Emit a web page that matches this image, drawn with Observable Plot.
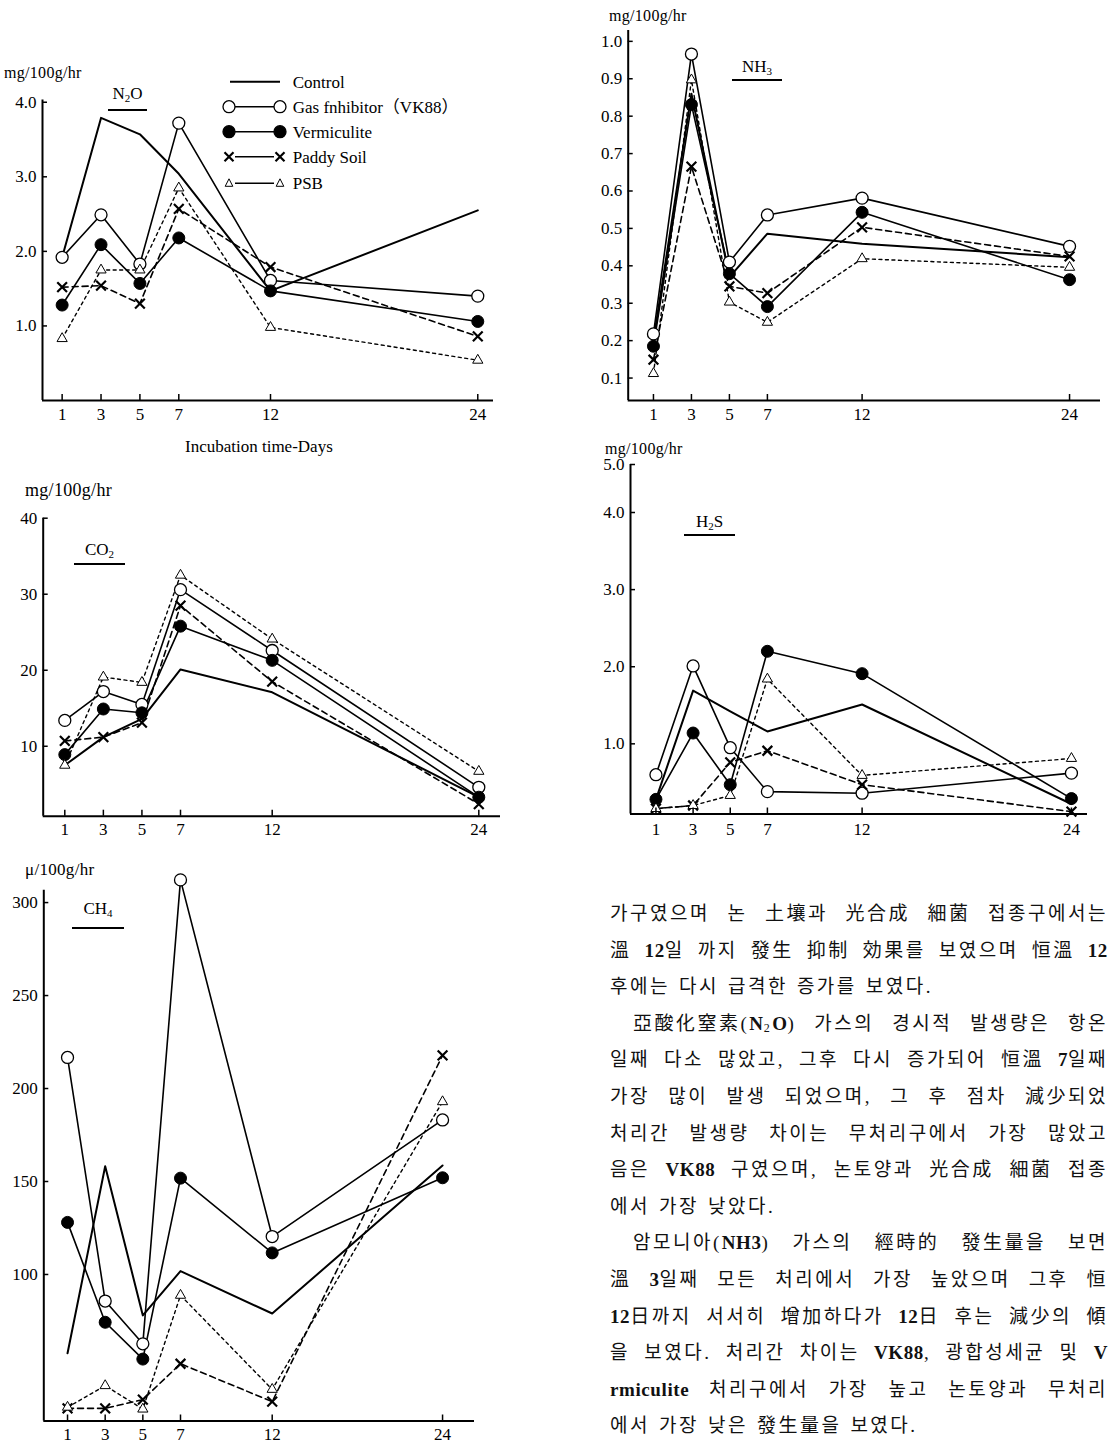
<!DOCTYPE html>
<html><head><meta charset="utf-8">
<script src="https://cdn.jsdelivr.net/npm/d3@7"></script>
<script src="https://cdn.jsdelivr.net/npm/@observablehq/plot@0.6"></script>
<style>
html,body{margin:0;padding:0;background:#fff;}
body{width:1110px;height:1445px;overflow:hidden;position:relative;font-family:"Liberation Serif",serif;color:#000;}
.abs{position:absolute;}
.unit{position:absolute;font-size:16px;line-height:16px;white-space:nowrap;letter-spacing:0.3px;}
.gas{position:absolute;font-size:17px;line-height:17px;border-bottom:2px solid #000;text-align:center;white-space:nowrap;}
.gas sub{font-size:11px;line-height:0;vertical-align:-3px;}
.xlab{position:absolute;font-size:17px;line-height:17px;white-space:nowrap;}
#body{position:absolute;left:610px;font-family:"Liberation Serif","Noto Sans CJK KR",serif;font-size:19px;letter-spacing:2.5px;color:#111;}
#body .ln{display:flex;height:36.6px;line-height:36.6px;white-space:nowrap;width:498px;}
#body .j{justify-content:space-between;}
#body .ln:not(.j){column-gap:9px;}
#body .ind{padding-left:23px;width:475px;}
#body sub{font-size:12px;line-height:0;vertical-align:-2px;}
#body .lat{font-weight:bold;letter-spacing:0.6px;}
</style>
</head><body>
<script>
// ---------------- data ----------------
const days = [1, 3, 5, 7, 12, 24];
const seriesNames = ["Control", "Gas fnhibitor（VK88）", "Vermiculite", "Paddy Soil", "PSB"];

// N2O  (mg/100g/hr)
const n2oControl     = [1.92, 3.79, 3.57, 3.04, 1.47, 2.55];
const n2oVK88        = [1.92, 2.49, 1.83, 3.72, 1.61, 1.40];
const n2oVermiculite = [1.28, 2.09, 1.57, 2.18, 1.47, 1.06];
const n2oPaddySoil   = [1.52, 1.54, 1.30, 2.57, 1.79, 0.86];
const n2oPSB         = [0.83, 1.75, 1.75, 2.85, 0.98, 0.54];

// NH3 (mg/100g/hr)
const nh3Control     = [0.20, 0.86, 0.37, 0.486, 0.459, 0.423];
const nh3VK88        = [0.218, 0.966, 0.41, 0.536, 0.581, 0.452];
const nh3Vermiculite = [0.185, 0.831, 0.379, 0.291, 0.543, 0.363];
const nh3PaddySoil   = [0.149, 0.665, 0.345, 0.327, 0.503, 0.425];
const nh3PSB         = [0.112, 0.897, 0.303, 0.249, 0.419, 0.396];

// CO2 (mg/100g/hr)
const co2Control     = [7.5, 11.2, 13.6, 20.1, 17.1, 3.3];
const co2VK88        = [13.4, 17.2, 15.5, 30.6, 22.6, 4.6];
const co2Vermiculite = [8.9, 14.9, 14.4, 25.8, 21.3, 3.3];
const co2PaddySoil   = [10.7, 11.2, 13.1, 28.5, 18.5, 2.4];
const co2PSB         = [7.5, 19.1, 18.4, 32.5, 24.1, 6.7];

// H2S (mg/100g/hr)
const h2sControl     = [0.28, 1.69, 1.42, 1.16, 1.51, 0.22];
const h2sVK88        = [0.60, 2.01, 0.95, 0.38, 0.36, 0.62];
const h2sVermiculite = [0.28, 1.14, 0.47, 2.20, 1.91, 0.29];
const h2sPaddySoil   = [0.16, 0.20, 0.76, 0.91, 0.47, 0.12];
const h2sPSB         = [0.16, 0.20, 0.33, 1.84, 0.59, 0.81];

// CH4 (μ/100g/hr)
const ch4Control     = [57.6, 158.2, 78, 101.8, 79, 158.6];
const ch4VK88        = [216.7, 85.7, 62.7, 312.2, 120.4, 183.1];
const ch4Vermiculite = [128, 74.3, 54.5, 151.8, 111.6, 152];
const ch4PaddySoil   = [28, 28, 32.7, 52, 31.6, 217.8];
const ch4PSB         = [28.6, 40.2, 27.6, 88.8, 38.2, 192.9];

const n2oTicks = [1, 2, 3, 4];
const nh3Ticks = [0.1, 0.2, 0.3, 0.4, 0.5, 0.6, 0.7, 0.8, 0.9, 1.0];
const co2Ticks = [10, 20, 30, 40];
const h2sTicks = [1, 2, 3, 4, 5];
const ch4Ticks = [100, 150, 200, 250, 300];

const textLines = [
  "가구였으며 논 土壤과 光合成 細菌 접종구에서는",
  "溫 12일 까지 發生 抑制 効果를 보였으며 恒溫 12",
  "후에는 다시 급격한 증가를 보였다.",
  "亞酸化窒素(N<sub>2</sub>O) 가스의 경시적 발생량은 항온",
  "일째 다소 많았고, 그후 다시 증가되어 恒溫 7일째",
  "가장 많이 발생 되었으며, 그 후 점차 減少되었",
  "처리간 발생량 차이는 무처리구에서 가장 많았고",
  "음은 VK88 구였으며, 논토양과 光合成 細菌 접종",
  "에서 가장 낮았다.",
  "암모니아(NH3) 가스의 經時的 發生量을 보면",
  "溫 3일째 모든 처리에서 가장 높았으며 그후 恒",
  "12日까지 서서히 增加하다가 12日 후는 減少의 傾",
  "을 보였다. 처리간 차이는 VK88, 광합성세균 및 V",
  "rmiculite 처리구에서 가장 높고 논토양과 무처리",
  "에서 가장 낮은 發生量을 보였다."
];
const paraStarts = [3, 9];
const paraEnds = [2, 8, 14];

// ---------------- styles ----------------
const seriesStyle = {
  "Control":              {dash: null,    width: 2,   symbol: null},
  "Gas fnhibitor（VK88）": {dash: null,    width: 1.6, symbol: "circle",   fill: "#fff", r: 6,   sw: 1.3},
  "Vermiculite":          {dash: null,    width: 1.6, symbol: "circle",   fill: "#000", r: 6,   sw: 1},
  "Paddy Soil":           {dash: "6,4",   width: 1.6, symbol: "times",    fill: "none", r: 4.5, sw: 2.2},
  "PSB":                  {dash: "3,3.5", width: 1.4, symbol: "triangle", fill: "#fff", r: 3.8, sw: 1}
};

function toRows(list) {
  const rows = [];
  seriesNames.forEach((name, i) => days.forEach((d, j) => rows.push({series: name, day: d, value: list[i][j]})));
  return rows;
}

function panel(cfg) {
  const rows = toRows(cfg.values);
  const marks = [];
  for (const name of seriesNames) {
    const st = seriesStyle[name];
    marks.push(Plot.line(rows.filter(r => r.series === name), {
      x: "day", y: "value", stroke: "#000", strokeWidth: st.width, strokeDasharray: st.dash
    }));
  }
  for (const name of seriesNames) {
    const st = seriesStyle[name];
    if (!st.symbol) continue;
    marks.push(Plot.dot(rows.filter(r => r.series === name), {
      x: "day", y: "value", symbol: st.symbol, r: st.r, fill: st.fill, stroke: "#000", strokeWidth: st.sw
    }));
  }
  marks.push(Plot.ruleX([cfg.xDomain[0]], {stroke: "#000", strokeWidth: 2}));
  marks.push(Plot.ruleY([cfg.yDomain[0]], {stroke: "#000", strokeWidth: 2}));
  marks.push(Plot.axisX(days, {anchor: "bottom", tickSize: -6, tickPadding: 13 + (cfg.xPad || 0), tickFormat: d => String(d), label: null, strokeWidth: 1.5}));
  marks.push(Plot.axisY(cfg.yTicks, {anchor: "left", tickSize: -5, tickPadding: 11, tickFormat: cfg.yFmt, label: null, strokeWidth: 1.5}));
  const yScale = {type: "linear", domain: cfg.yDomain};
  if (cfg.yRange) yScale.range = cfg.yRange;
  const svg = Plot.plot({
    width: cfg.W, height: cfg.H,
    marginLeft: cfg.ml, marginRight: cfg.mr, marginTop: cfg.mt, marginBottom: cfg.mb,
    x: {type: "linear", domain: cfg.xDomain, range: cfg.xRange},
    y: yScale,
    style: {fontFamily: "'Liberation Serif', serif", fontSize: "17px", color: "#000", background: "transparent", overflow: "visible"},
    marks
  });
  const wrap = document.createElement("div");
  wrap.className = "abs";
  wrap.style.left = cfg.L + "px";
  wrap.style.top = cfg.T + "px";
  wrap.appendChild(svg);
  document.body.appendChild(wrap);
}

const f1 = d3.format(".1f");
const f0 = d3.format("d");

// N2O
panel({values: [n2oControl, n2oVK88, n2oVermiculite, n2oPaddySoil, n2oPSB],
  L: 0, T: 60, W: 510, H: 380, ml: 42, mr: 17, mt: 39.5, mb: 40,
  xDomain: [-0.01, 7, 12, 24.91], xRange: [42, 178.3, 270, 493],
  yDomain: [0, 4.03], yTicks: n2oTicks, yFmt: f1});
// NH3
panel({values: [nh3Control, nh3VK88, nh3Vermiculite, nh3PaddySoil, nh3PSB],
  L: 560, T: 0, W: 550, H: 430, ml: 67.7, mr: 10, mt: 30, mb: 30,
  xDomain: [-0.33, 7, 12, 25.79], xRange: [67.7, 206.9, 301.6, 540],
  yDomain: [0.04, 1.029], yTicks: nh3Ticks, yFmt: f1});
// CO2
panel({values: [co2Control, co2VK88, co2Vermiculite, co2PaddySoil, co2PSB],
  L: 0, T: 475, W: 510, H: 370, ml: 42.7, mr: 10, mt: 42.7, mb: 29.3,
  xDomain: [-0.12, 7, 12, 25.26], xRange: [42.7, 180, 271.7, 500],
  yDomain: [0.8, 40], yTicks: co2Ticks, yFmt: f0});
// H2S (axis drawn with a compressed top segment, as in the original)
panel({values: [h2sControl, h2sVK88, h2sVermiculite, h2sPaddySoil, h2sPSB],
  L: 560, T: 435, W: 550, H: 410, ml: 70, mr: 23, mt: 29, mb: 31.5,
  xDomain: [-0.37, 7, 12, 24.92], xRange: [70, 206.9, 301.6, 527],
  yDomain: [0.09, 4, 5], yRange: [378.5, 77, 29], yTicks: h2sTicks, yFmt: f1, xPad: 2});
// CH4
panel({values: [ch4Control, ch4VK88, ch4Vermiculite, ch4PaddySoil, ch4PSB],
  L: 0, T: 850, W: 510, H: 595, ml: 43.3, mr: 36, mt: 39.8, mb: 24.5,
  xDomain: [-0.26, 7, 12, 26.25], xRange: [43.3, 180, 271.7, 474],
  yDomain: [21.2, 306.6], yTicks: ch4Ticks, yFmt: f0});

// ---------- labels ----------
function addDiv(cls, html, css) {
  const d = document.createElement("div");
  d.className = cls;
  d.innerHTML = html;
  Object.assign(d.style, css);
  document.body.appendChild(d);
  return d;
}
addDiv("unit", "mg/100g/hr", {left: "4px", top: "65px"});
addDiv("unit", "mg/100g/hr", {left: "609px", top: "8px"});
addDiv("unit", "mg/100g/hr", {left: "25px", top: "481px", fontSize: "18px", lineHeight: "18px"});
addDiv("unit", "mg/100g/hr", {left: "605px", top: "441px"});
addDiv("unit", "μ/100g/hr", {left: "25px", top: "862px", fontSize: "17px"});

addDiv("gas", "N<sub>2</sub>O", {left: "108px", top: "85px", width: "39px", paddingBottom: "7px"});
addDiv("gas", "NH<sub>3</sub>", {left: "732px", top: "58px", width: "50px", paddingBottom: "4px"});
addDiv("gas", "CO<sub>2</sub>", {left: "74px", top: "541px", width: "51px", paddingBottom: "5px"});
addDiv("gas", "H<sub>2</sub>S", {left: "684px", top: "513px", width: "51px", paddingBottom: "4px"});
addDiv("gas", "CH<sub>4</sub>", {left: "72px", top: "900px", width: "52px", paddingBottom: "10px"});

addDiv("xlab", "Incubation time-Days", {left: "185px", top: "438px"});

// ---------- legend (inside N2O panel) ----------
(function legend() {
  const rowY = [13.7, 38.7, 63.7, 88.7, 115.3];
  const x1 = 9, x2 = 60, tx = 72.7;
  let s = `<svg width="290" height="132" xmlns="http://www.w3.org/2000/svg" style="overflow:visible">`;
  seriesNames.forEach((name, i) => {
    const st = seriesStyle[name];
    const y = rowY[i];
    s += `<line x1="${st.symbol ? x1 + 6 : 10}" x2="${st.symbol ? x2 - 6 : 60}" y1="${y}" y2="${y}" stroke="#000" stroke-width="${st.symbol ? 1.6 : 2}"/>`;
    [x1, x2].forEach(cx => {
      if (st.symbol === "circle") s += `<circle cx="${cx}" cy="${y}" r="6" fill="${st.fill}" stroke="#000" stroke-width="1.3"/>`;
      if (st.symbol === "times") s += `<path d="M${cx-4.5},${y-4.5}L${cx+4.5},${y+4.5}M${cx-4.5},${y+4.5}L${cx+4.5},${y-4.5}" stroke="#000" stroke-width="2.2"/>`;
      if (st.symbol === "triangle") s += `<path d="M${cx},${y-4.5}L${cx+3.8},${y+3}L${cx-3.8},${y+3}Z" fill="#fff" stroke="#000" stroke-width="1"/>`;
    });
    s += `<text x="${tx}" y="${y}" dy="0.35em" font-family="'Liberation Serif', 'Noto Sans CJK KR', serif" font-size="17">${name}</text>`;
  });
  s += `</svg>`;
  addDiv("abs", s, {left: "220px", top: "68px"});
})();

// ---------- Korean body text ----------
(function bodyText() {
  const box = document.createElement("div");
  box.id = "body";
  box.style.top = "896px";
  textLines.forEach((t, i) => {
    const d = document.createElement("div");
    let cls = "ln";
    if (!paraEnds.includes(i)) cls += " j";
    if (paraStarts.includes(i)) cls += " ind";
    d.className = cls;
    t.split(" ").forEach(w => {
      const s = document.createElement("span");
      // Latin letters/digits set in a heavier serif, as in the print
      s.innerHTML = w.replace(/(<sub>.*?<\/sub>)|([A-Za-z0-9]+)/g, (m, sub, lat) => sub ? m : `<span class="lat">${lat}</span>`);
      d.appendChild(s);
    });
    box.appendChild(d);
  });
  document.body.appendChild(box);
})();
</script>
</body></html>
